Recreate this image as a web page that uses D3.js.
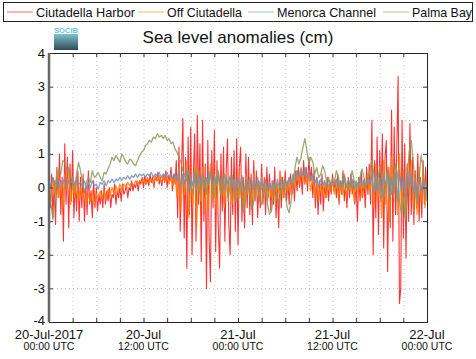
<!DOCTYPE html>
<html>
<head>
<meta charset="utf-8">
<script src="https://cdn.jsdelivr.net/npm/d3@7"></script>
<style>
  body { margin: 0; background: #fff; }
  svg { display: block; font-family: "Liberation Sans", Arial, sans-serif; }
</style>
</head>
<body>
<div id="chart"></div>
<script>
// sampling: series start at 20-Jul-2017 00:00 UTC
const startTime = Date.UTC(2017, 6, 20, 0, 0)
const redStepMin = 10
const otherStepMin = 15

const seriesNames = ['Ciutadella Harbor', 'Off Ciutadella', 'Menorca Channel', 'Palma Bay']
const yTicks = [-4, -3, -2, -1, 0, 1, 2, 3, 4]
const xLabelDays = ['20-Jul-2017', '20-Jul', '21-Jul', '21-Jul', '22-Jul']
const xLabelHours = ['00:00 UTC', '12:00 UTC', '00:00 UTC', '12:00 UTC', '00:00 UTC']

// Ciutadella Harbor, every 10 min
const ciutadellaHarbor = [
  0.1, -0.6, 0.4, -0.9, 0.2, -1.1, 0.6, -0.3, 1.0, -0.8, 0.3, -1.6, 1.3, -0.5, 0.9, -1.2, 0.7, -0.4, 1.1, -0.9, 0.2, -0.7, 0.5, -1.0, 0.3,
  -0.6, 0.4, -1.0, 0.1, -0.8, 0.5, -0.5, -0.1, -0.9, 0.2, -0.6, 0.0, -0.7, -0.2, -0.5,
  -0.1, -0.6, 0.1, -0.5, -0.1, -0.4, 0.0, -0.6, -0.2, -0.3, 0.1, -0.5, -0.1, -0.3, 0.0, -0.4, 0.1, -0.2, -0.1, 0.1, -0.3, 0.0, -0.1, 0.2, -0.1, 0.1, 0.0, 0.2, -0.1, 0.2,
  0.1, 0.3, 0.0, 0.35, 0.1, 0.25, 0.05, 0.4, 0.15, 0.3, 0.0, 0.35, 0.2, 0.45, 0.1, 0.3, 0.05, 0.4, 0.15, 0.5, 0.0, 0.35, 0.2, 0.6, -0.1, 0.4, 0.1,
  0.8, -0.9, 1.2, -1.3, 0.6, 2.05, -1.5, 0.9, -2.4, 1.5, -0.8, 1.8, -2.0, 0.4, 1.6, -1.6, 2.15, -0.5, 1.3, -2.2, 2.0, -1.0, 0.7,
  -3.0, 1.4, -1.5, -2.8, 1.1, -0.6, 1.7, -1.9, 0.8, -1.2, -2.4, 1.0, -0.7, 1.2, -1.6, 0.5, 1.45, -1.1, -2.0, 0.9, -0.8, 1.1, -1.3,
  1.45, -1.7, 0.6, 1.2, -1.0, 0.3, -1.2, 1.0, -0.6, 0.9, -0.8, 0.4, -1.1, 0.8, -0.4, 0.5, -0.9, 0.2, -0.6, 0.7, -0.5, 0.3, -0.8, 0.6, -0.3,
  0.4, -0.7, 0.2, -0.5, 0.6, -0.9, 0.1, -1.2, 0.5, -0.6, 0.3, -0.3, 0.5, -0.4, 0.2, -0.5, 0.4, -0.2, 0.3, -0.4, 0.5, -0.1, 0.6, 0.0,
  0.5, -0.2, 0.8, 0.1, 0.6, -0.1, 0.9, 0.2, 0.6, -0.3, 0.5, -0.6, 0.3, -0.8, 0.2, -0.5, 0.4, -0.7, 0.1, -0.3, 0.3, -0.4, 0.2, -0.2, 0.4, -0.1, 0.2,
  -0.3, 0.4, -0.5, 0.2, -0.2, 0.5, -0.4, 0.1, -0.6, 0.3, -0.3, 0.4, -0.2, 0.2, -0.5, 0.1, -1.0, 0.3, -0.4, 0.5, -0.3, 0.2, -0.6, 0.6, -0.2, 0.7, -0.5,
  2.0, -2.0, 0.8, -0.9, 1.5, -1.4, 1.1, -0.4, 1.6, -1.8, 0.9, 1.4, -2.5, 0.6, -1.2, 2.3, -1.6, 1.8, -0.8, 1.2, 3.3, -3.45, -3.0, 2.0, -1.5, 1.3, -2.1, 0.7, -1.0, 1.9,
  -0.8, 0.9, -1.1, 0.5, -0.6, 1.0, -1.0, 0.3, -0.9, 0.8, -0.5, 0.6, -0.3
]

// Off Ciutadella, every 15 min
const offCiutadella = [
  0.0, -0.4, 0.3, -0.2, 0.5, -0.3, 0.2, -0.6, 0.4, -0.1, 0.6, -0.5, 0.1, -0.3, 0.3, -0.4, 0.0,
  -0.3, -0.1, -0.5, -0.2, -0.4, -0.1, -0.5, -0.2, -0.3, -0.1,
  -0.3, -0.1, -0.35, -0.05, -0.25, 0.0, -0.2, 0.05, -0.15, 0.1, -0.05, 0.1, 0.0, 0.15, 0.05, 0.15, 0.05, 0.2, 0.1, 0.2,
  0.15, 0.25, 0.1, 0.3, 0.15, 0.25, 0.1, 0.3, 0.2, 0.35, 0.15, 0.3, 0.2, 0.35, 0.1, 0.3, 0.05, 0.4,
  -0.3, 0.6, -0.7, 0.4, -0.2, 0.8, -0.9, 0.3, -0.5, 0.7, -1.2, 0.5, -0.4, 0.6, -0.8, 0.2, -0.6, 0.7, -0.3, 0.4, -0.7, 0.5, -0.2, 0.3, -0.6, 0.4, -0.4, 0.3, -0.5, 0.2,
  -0.4, 0.5, -0.3, 0.3, -0.6, 0.4, -0.2, 0.2, -0.5, 0.4, -0.3, 0.1, -0.4, 0.3, -0.2, 0.2, -0.4, 0.1, -0.3, 0.2, -0.5, 0.1, -0.2, 0.3, -0.3, 0.2, -0.1, 0.3, -0.2, 0.4, 0.0, 0.5, 0.1,
  0.6, 0.2, 0.5, 0.1, 0.4, -0.1, 0.3, -0.3, 0.2, -0.4, 0.1, -0.2, 0.2, -0.3, 0.1, -0.1, 0.2, -0.2,
  0.2, -0.3, 0.1, -0.2, 0.3, -0.3, 0.1, -0.1, 0.2, -0.4, 0.1, -0.2, 0.3, -0.3, 0.2, -0.1, 0.4, -0.2,
  0.5, -0.6, 0.7, -0.4, 0.3, -0.9, 0.8, -0.5, 0.6, -1.0, 0.9, -0.3, 0.4, -0.8, 1.0, -0.6, 0.5, -0.9, 0.7, -0.2, 0.8, -0.7, 0.3, -0.8, 0.6, -0.4, 0.5, -0.6, 0.2
]

// Menorca Channel, every 15 min
const menorcaChannel = [
  0.2, 0.0, 0.3, 0.1, 0.25, -0.05, 0.2, 0.1, 0.3, 0.0, 0.2, 0.15, 0.3, 0.05, 0.2, 0.1, 0.15,
  0.05, 0.2, -0.05, 0.15, 0.0, 0.2, 0.05, 0.1, -0.05, 0.15,
  0.1, 0.2, 0.05, 0.2, 0.15, 0.25, 0.15, 0.25, 0.2, 0.3, 0.2, 0.3, 0.25, 0.35, 0.25, 0.35, 0.3, 0.4, 0.3, 0.4,
  0.35, 0.4, 0.3, 0.4, 0.35, 0.45, 0.3, 0.4, 0.35, 0.45, 0.3, 0.4, 0.35, 0.45, 0.3, 0.4, 0.25, 0.4,
  0.2, 0.5, 0.0, 0.4, 0.1, 0.5, -0.1, 0.3, 0.05, 0.45, -0.05, 0.35, 0.1, 0.4, 0.0, 0.3, 0.1, 0.45, 0.0, 0.35, 0.05, 0.4, 0.1, 0.3, -0.05, 0.3, 0.1, 0.35, 0.0, 0.25,
  -0.1, 0.3, 0.0, 0.35, -0.15, 0.2, 0.05, 0.3, -0.1, 0.25, 0.0, 0.3, -0.15, 0.2, 0.0, 0.25, -0.1, 0.15, -0.05, 0.2, -0.1, 0.25, 0.0, 0.2, -0.05, 0.25, 0.05, 0.3, 0.1, 0.4, 0.2, 0.5, 0.3,
  0.55, 0.35, 0.6, 0.3, 0.5, 0.2, 0.4, 0.1, 0.3, 0.0, 0.25, 0.05, 0.2, 0.0, 0.25, 0.05, 0.2, 0.1,
  0.25, 0.0, 0.2, 0.05, 0.3, 0.0, 0.2, 0.05, 0.25, -0.05, 0.2, 0.0, 0.3, 0.05, 0.25, 0.0, 0.3, 0.1,
  0.4, -0.2, 0.5, -0.1, 0.3, -0.3, 0.4, 0.0, 0.5, -0.3, 0.3, -0.2, 0.4, -0.4, 0.5, -0.1, 0.3, -0.3, 0.6, 0.0, 0.4, -0.2, 0.2, -0.3, 0.3, -0.1, 0.2, -0.2, 0.1
]

// Palma Bay, every 15 min
const palmaBay = [
  0.0, -0.5, -0.95, -0.3, 0.3, 0.55, 0.4, 0.8, 0.75, 0.5, 0.55, 0.3, 0.1, -0.1, 0.4, 0.75, 0.5,
  0.1, -0.15, 0.15, 0.3, 0.15, 0.5, 0.3, 0.35, 0.45, 0.3,
  0.2, 0.45, 0.4, 0.55, 0.7, 0.9, 0.8, 0.95, 0.85, 0.75, 1.0, 0.9, 0.75, 0.7, 0.85, 0.8, 0.7, 0.65, 0.8, 0.95,
  1.05, 1.1, 1.25, 1.3, 1.4, 1.35, 1.5, 1.45, 1.6, 1.5, 1.55, 1.45, 1.55, 1.4, 1.45, 1.3, 1.35, 1.15,
  1.05, 0.9, 0.75, 0.5, 0.35, 0.2, 0.5, 0.1, -0.2, 0.3, 0.55, 0.0, -0.25, 0.4, 0.2, -0.2, 0.35, 0.5, 0.0, -0.3, 0.3, 0.45, -0.1, -0.2, 0.4, 0.2, -0.3, 0.0, 0.35, -0.1,
  -0.45, -0.2, 0.2, -0.3, -0.75, -0.3, 0.1, -0.2, -0.65, -0.4, 0.0, 0.15, -0.4, -0.5, 0.1, 0.0, -0.5, -0.8, -0.7, -0.2, 0.1, -0.3, -0.5, -0.1, 0.2, -0.2, -0.6, -0.75, -0.4, 0.1, 0.6, 0.9, 0.7,
  0.9, 1.2, 1.45, 1.1, 0.7, 0.9, 0.75, 0.4, 0.6, 0.3, 0.4, 0.65, 0.5, 0.2, 0.3, 0.0, 0.25, 0.2,
  0.5, 0.3, 0.0, 0.2, 0.4, 0.1, -0.1, 0.2, 0.5, 0.2, 0.0, 0.15, 0.3, 0.55, 0.3, 0.0, 0.2, 0.5,
  0.8, 0.4, -0.1, 0.2, 0.6, 0.3, -0.3, 0.0, 0.5, 0.3, -0.2, 0.2, 0.7, 0.4, -0.4, -0.8, -0.3, -1.0, 0.3, 1.1, 1.4, 0.8, 0.0, -0.5, 0.3, 0.95, 0.6, -0.2, -0.4
]

const seriesValues = [ciutadellaHarbor, offCiutadella, menorcaChannel, palmaBay]
const seriesSteps = [redStepMin, otherStepMin, otherStepMin, otherStepMin]
const seriesColors = ['#ff0000', '#ff8000', '#6f8fbd', '#8a9a5b']

const width = 476
const height = 359
const margin = { top: 53, right: 49, bottom: 37, left: 49 }
const plotW = width - margin.left - margin.right
const plotH = height - margin.top - margin.bottom

const svg = d3.select('#chart')
  .append('svg')
  .attr('width', width)
  .attr('height', height)

const x = d3.scaleUtc()
  .domain([new Date(startTime), new Date(startTime + 48 * 3600e3)])
  .range([margin.left, margin.left + plotW])
const y = d3.scaleLinear().domain([-4, 4]).range([margin.top + plotH, margin.top])

// grid lines (every 3 hours, every unit)
const gridTimes = d3.range(0, 49, 3).map((h) => new Date(startTime + h * 3600e3))
const grid = svg.append('g').attr('stroke', '#c8c8c8').attr('stroke-dasharray', '1,3')
grid.selectAll('.gx')
  .data(gridTimes.slice(1, -1))
  .enter()
  .append('line')
  .attr('x1', (d) => x(d) + 0.5).attr('x2', (d) => x(d) + 0.5)
  .attr('y1', margin.top).attr('y2', margin.top + plotH)
grid.selectAll('.gy')
  .data(yTicks.slice(1, -1))
  .enter()
  .append('line')
  .attr('x1', margin.left).attr('x2', margin.left + plotW)
  .attr('y1', (d) => Math.round(y(d)) + 0.5).attr('y2', (d) => Math.round(y(d)) + 0.5)

// series lines
const clip = svg.append('clipPath').attr('id', 'plotClip')
clip.append('rect').attr('x', margin.left).attr('y', margin.top).attr('width', plotW).attr('height', plotH)

seriesValues.forEach((vals, k) => {
  const pts = vals.map((v, i) => ({ t: new Date(startTime + i * seriesSteps[k] * 60e3), v: v }))
  const line = d3.line().x((d) => x(d.t)).y((d) => y(d.v))
  svg.append('path')
    .datum(pts)
    .attr('clip-path', 'url(#plotClip)')
    .attr('fill', 'none')
    .attr('stroke', seriesColors[k])
    .attr('stroke-opacity', k === 0 ? 0.8 : 0.85)
    .attr('stroke-width', k === 0 ? 1.1 : 1.3)
    .attr('stroke-linejoin', 'round')
    .attr('d', line)
})

// axes: ticks point inward on all four sides
const tickLen = 4
svg.append('g')
  .attr('transform', `translate(0,${margin.top + plotH})`)
  .call(d3.axisBottom(x).tickValues(gridTimes).tickSize(-tickLen).tickFormat(''))
svg.append('g')
  .attr('transform', `translate(0,${margin.top})`)
  .call(d3.axisTop(x).tickValues(gridTimes).tickSize(-tickLen).tickFormat(''))
svg.append('g')
  .attr('transform', `translate(${margin.left},0)`)
  .call(d3.axisLeft(y).tickValues(yTicks).tickSize(-tickLen).tickFormat(''))
svg.append('g')
  .attr('transform', `translate(${margin.left + plotW},0)`)
  .call(d3.axisRight(y).tickValues(yTicks).tickSize(-tickLen).tickFormat(''))
svg.selectAll('.domain').attr('stroke', '#222')
svg.selectAll('.tick line').attr('stroke', '#333')

// thick grey left spine
svg.append('line')
  .attr('x1', margin.left).attr('x2', margin.left)
  .attr('y1', margin.top).attr('y2', margin.top + plotH)
  .attr('stroke', '#666').attr('stroke-width', 2.5)

// y labels
svg.append('g').selectAll('text')
  .data(yTicks)
  .enter()
  .append('text')
  .attr('x', margin.left - 4)
  .attr('y', (d) => y(d) - (d === -4 ? 2 : 0))
  .attr('dy', '0.35em')
  .attr('text-anchor', 'end')
  .attr('font-size', 13)
  .attr('fill', '#111')
  .text((d) => d)

// x labels
const labelTimes = [0, 12, 24, 36, 48].map((h) => new Date(startTime + h * 3600e3))
const xl = svg.append('g').attr('text-anchor', 'middle').attr('fill', '#111')
xl.selectAll('.day')
  .data(labelTimes)
  .enter()
  .append('text')
  .attr('x', (d) => x(d))
  .attr('y', margin.top + plotH + 16.5)
  .attr('font-size', 13)
  .text((d, i) => xLabelDays[i])
xl.selectAll('.hour')
  .data(labelTimes)
  .enter()
  .append('text')
  .attr('x', (d) => x(d))
  .attr('y', margin.top + plotH + 28)
  .attr('font-size', 10.5)
  .text((d, i) => xLabelHours[i])

// title
svg.append('text')
  .attr('x', 238)
  .attr('y', 43)
  .attr('text-anchor', 'middle')
  .attr('font-size', 17)
  .attr('fill', '#111')
  .text('Sea level anomalies (cm)')

// small SOCIB logo
const grad = svg.append('defs').append('linearGradient')
  .attr('id', 'logoGrad').attr('x1', 0).attr('y1', 0).attr('x2', 0).attr('y2', 1)
grad.append('stop').attr('offset', '0%').attr('stop-color', '#7cc3cf')
grad.append('stop').attr('offset', '100%').attr('stop-color', '#34495a')
svg.append('text')
  .attr('x', 54).attr('y', 33)
  .attr('font-size', 8)
  .attr('font-weight', 'bold')
  .attr('fill', '#6cc6d6')
  .attr('textLength', 24)
  .attr('lengthAdjust', 'spacingAndGlyphs')
  .text('SOCIB')
svg.append('rect')
  .attr('x', 54).attr('y', 34).attr('width', 24).attr('height', 16)
  .attr('fill', 'url(#logoGrad)')

// legend
svg.append('rect')
  .attr('x', 3.5).attr('y', 2.5).attr('width', 469).attr('height', 19)
  .attr('fill', '#fff').attr('stroke', '#222')
const legendX = [7, 138, 248, 383]
const legendTextW = [99, 75, 99, 60]
const legend = svg.append('g').selectAll('g')
  .data(seriesNames)
  .enter()
  .append('g')
  .attr('transform', (d, i) => `translate(${legendX[i]},12)`)
legend.append('line')
  .attr('x1', 0).attr('x2', 26)
  .attr('stroke', (d, i) => seriesColors[i])
  .attr('stroke-opacity', 0.5)
  .attr('stroke-width', 1.2)
legend.append('text')
  .attr('x', 29)
  .attr('y', 5)
  .attr('font-size', 13)
  .attr('fill', '#111')
  .attr('textLength', (d, i) => legendTextW[i])
  .attr('lengthAdjust', 'spacingAndGlyphs')
  .text((d) => d)
</script>
</body>
</html>
